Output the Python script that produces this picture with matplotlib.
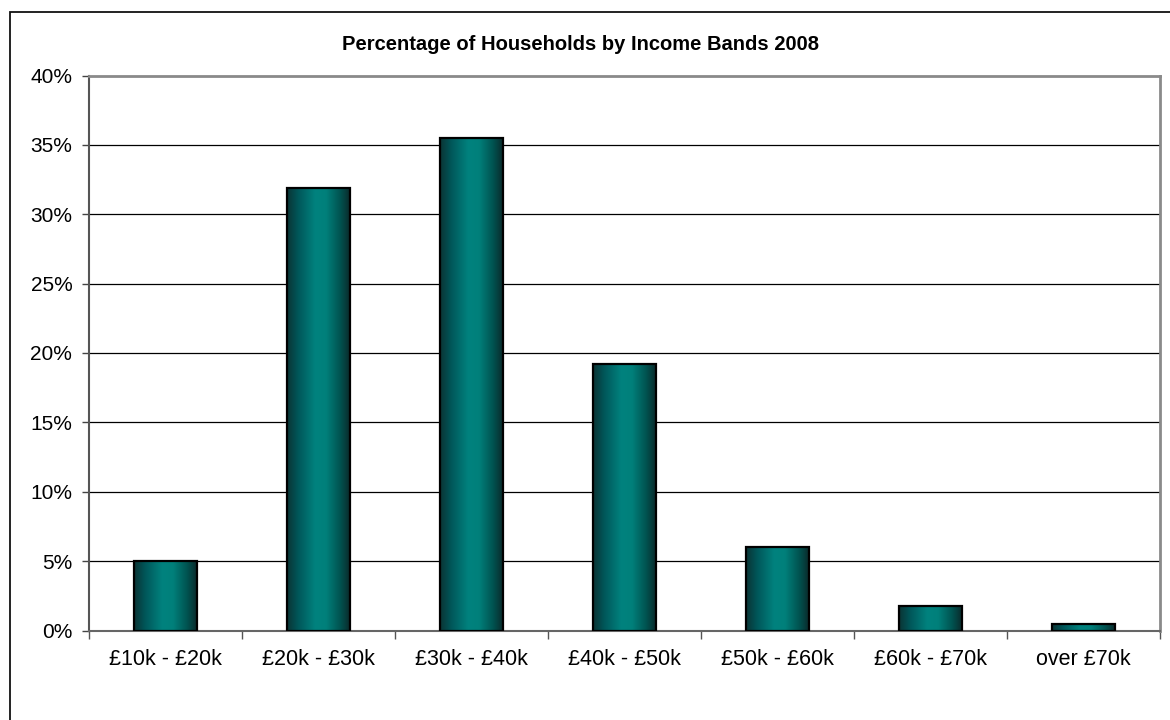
import numpy as np
import matplotlib
matplotlib.use("Agg")
import matplotlib.pyplot as plt
from matplotlib.colors import LinearSegmentedColormap
from matplotlib.patches import Rectangle
from matplotlib.ticker import FuncFormatter, MultipleLocator

plt.rcParams["font.family"] = ["Liberation Sans", "DejaVu Sans"]

# ── Data ──────────────────────────────────────────────────────────────
bands = ["£10k - £20k", "£20k - £30k", "£30k - £40k", "£40k - £50k",
         "£50k - £60k", "£60k - £70k", "over £70k"]
share = [5.0, 31.9, 35.5, 19.2, 6.0, 1.75, 0.5]   # % of households
title = "Percentage of Households by Income Bands 2008"

# ── Figure / axes ─────────────────────────────────────────────────────
fig = plt.figure(figsize=(11.7, 7.2), dpi=100)
ax = fig.add_axes([89 / 1170, 1 - 630.5 / 720, (1160 - 89) / 1170, (630.5 - 75.5) / 720])

# outer chart frame (runs off the right / bottom edge)
fig.patches.append(Rectangle((10 / 1170, -0.1), 1.1, 1.1 - 12 / 720,
                             transform=fig.transFigure, fill=False,
                             edgecolor="#111111", linewidth=1.3))

# teal cylinder-ish shading, dark at both edges
shade = LinearSegmentedColormap.from_list("teal_shade", [
    (0.00, "#0b3434"), (0.18, "#00575a"), (0.45, "#00827e"),
    (0.62, "#00807b"), (0.85, "#005250"), (1.00, "#0a2b2b")])
grad = np.linspace(0, 1, 256).reshape(1, -1)

x = np.arange(len(bands))
bars = ax.bar(x, share, width=0.41, facecolor="none", edgecolor="black",
              linewidth=1.6, zorder=4)
for b in bars:
    ax.imshow(grad, cmap=shade, aspect="auto", interpolation="bicubic",
              extent=[b.get_x(), b.get_x() + b.get_width(), 0, b.get_height()],
              zorder=3)

ax.set_xlim(-0.5, len(bands) - 0.5)
ax.set_ylim(0, 40)

# gridlines
ax.yaxis.set_major_locator(MultipleLocator(5))
for v in range(5, 40, 5):
    ax.axhline(v, color="black", linewidth=0.9, zorder=1)

ax.yaxis.set_major_formatter(FuncFormatter(lambda v, _: f"{v:.0f}%"))
ax.tick_params(axis="y", direction="out", length=5, width=1, color="#444444",
               pad=7, labelsize=15)

ax.set_xticks(x)
ax.set_xticklabels(bands)
ax.set_xticks(np.arange(len(bands) + 1) - 0.5, minor=True)
ax.tick_params(axis="x", which="major", length=0, pad=13, labelsize=15.5)
ax.tick_params(axis="x", which="minor", direction="out", length=6, width=1,
               color="#555555")

for side in ("top", "right"):
    ax.spines[side].set_color("#8a8a8a")
    ax.spines[side].set_linewidth(2)
ax.spines["left"].set_color("#555555")
ax.spines["left"].set_linewidth(1.5)
ax.spines["bottom"].set_color("#666666")
ax.spines["bottom"].set_linewidth(1.5)

fig.text(580 / 1170, 1 - 45 / 720, title, ha="center", va="center",
         fontsize=14.5, fontweight="bold")

fig.savefig("out.png", dpi=100)
